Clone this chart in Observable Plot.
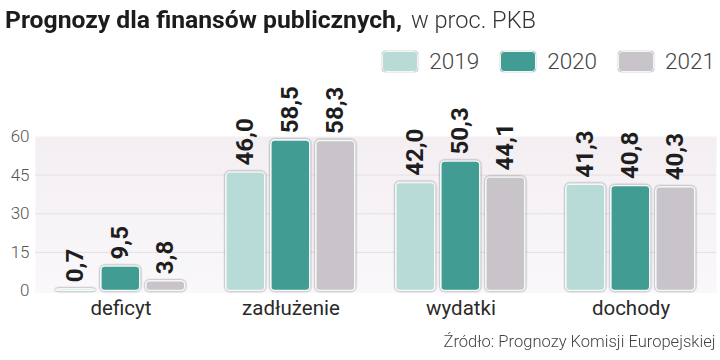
<!DOCTYPE html>
<html>
<head>
<meta charset="utf-8">
<script src="https://cdn.jsdelivr.net/npm/d3@7"></script>
<script src="https://cdn.jsdelivr.net/npm/@observablehq/plot@0.6"></script>
<style>
  html, body { margin: 0; padding: 0; background: #fff; }
  body { width: 720px; height: 360px; position: relative; overflow: hidden; font-family: Roboto, "Noto Sans", sans-serif; color: #222; }
  .t { position: absolute; top: 8px; line-height: 24px; font-size: 24px; white-space: nowrap; transform-origin: 0 0; }
  #t1 { left: 5px; font-weight: 700; color: #1c1c1c; }
  #t2 { left: 411px; font-weight: 300; color: #333; }
  #legend { position: absolute; top: 50px; right: 5px; height: 22px; display: flex; align-items: center; }
  .sw { width: 34px; height: 19px; border: 1.5px solid #f2f7f6; border-radius: 4px; box-shadow: 0 0 1.2px rgba(0,0,0,0.55); margin-right: 11px; }
  .lt { font-size: 22.5px; font-weight: 300; line-height: 22px; color: #444; margin-right: 21px; }
  .lt:last-child { margin-right: 0; }
  #chart { position: absolute; left: 0; top: 80px; }
  #caption { position: absolute; top: 330px; left: 0; width: 715px; height: 22px; }
  #cap { position: absolute; right: 0; top: 0; font-size: 17px; font-weight: 300; line-height: 22px; color: #444; white-space: nowrap; transform-origin: 100% 0; }
  #chart svg [aria-label^="y-axis"] text { font-size: 17px; font-weight: 300; fill: #555; }
  #chart svg [aria-label^="fx-axis"] text { font-size: 20.5px; font-weight: 400; fill: #2a2a2a; }
  #chart svg [aria-label="bar"] rect { filter: drop-shadow(0 0 0.8px rgba(0,0,0,0.5)); }
</style>
</head>
<body>
<div class="t" id="t1">Prognozy dla finansów publicznych,</div>
<div class="t" id="t2">w proc. PKB</div>
<div id="legend"></div>
<div id="chart"></div>
<div id="caption"><div id="cap">Źródło: Prognozy Komisji Europejskiej</div></div>
<script>
// ---- data ----
const categories = ["deficyt", "zadłużenie", "wydatki", "dochody"];
const years = ["2019", "2020", "2021"];
const values2019 = [0.7, 46.0, 42.0, 41.3];
const values2020 = [9.5, 58.5, 50.3, 40.8];
const values2021 = [3.8, 58.3, 44.1, 40.3];
const yTicks = [0, 15, 30, 45, 60];
const palette = ["#b8dbd8", "#419d93", "#c9c4ca"];

const series = [values2019, values2020, values2021];
const data = categories.flatMap((c, i) =>
  years.map((y, j) => ({category: c, year: y, value: series[j][i]})));

// ---- title fitting ----
function fit(el, target) {
  const w = el.getBoundingClientRect().width;
  el.style.transform = `scaleX(${target / w})`;
}
fit(document.getElementById("t1"), 397);
fit(document.getElementById("t2"), 125);

// ---- legend ----
const legend = document.getElementById("legend");
years.forEach((y, j) => {
  const s = document.createElement("div");
  s.className = "sw"; s.style.background = palette[j];
  const t = document.createElement("div");
  t.className = "lt"; t.textContent = y;
  legend.append(s, t);
});

// ---- chart ----
const fmt = v => v.toFixed(1).replace(".", ",");
const chart = Plot.plot({
  width: 720,
  height: 246,
  marginTop: 56,
  marginBottom: 35.5,
  marginLeft: 47.2,
  marginRight: 16.2,
  style: {fontFamily: "Roboto, sans-serif", fontSize: "17px", background: "transparent", overflow: "visible"},
  facet: {data, x: "category"},
  fx: {domain: categories, paddingInner: 0.16, paddingOuter: 0, label: null, tickSize: 0, tickPadding: 9, axis: "bottom"},
  x: {domain: years, paddingInner: 0.13, paddingOuter: 0.126, axis: null},
  y: {domain: [0, 60], ticks: yTicks, tickSize: 0, tickPadding: 20, label: null},
  color: {domain: years, range: palette},
  marks: [
    Plot.frame({fill: "url(#panelGrad)", stroke: "none", insetLeft: -14, insetRight: -14, insetBottom: -2}),
    Plot.ruleY([15, 30, 45], {stroke: "#e7dfe5", strokeWidth: 1, insetLeft: -14, insetRight: -14}),
    Plot.barY(data, {x: "year", y: "value", fill: "year", stroke: "#f3f9f8", strokeWidth: 1.6, rx: 4}),
    Plot.text(data, {x: "year", y: "value", text: d => fmt(d.value), rotate: -90, textAnchor: "start", lineAnchor: "middle",
      dy: -7, fontSize: 24, fontWeight: 700, fill: "#1e1e1e"})
  ]
});
const defs = d3.select(chart).insert("defs", ":first-child");
const g = defs.append("linearGradient").attr("id", "panelGrad").attr("x1", 0).attr("y1", 0).attr("x2", 0).attr("y2", 1);
g.append("stop").attr("offset", "0%").attr("stop-color", "#f3eef2");
g.append("stop").attr("offset", "100%").attr("stop-color", "#faf8fa");
document.getElementById("chart").append(chart);

// caption fit
(function () {
  const el = document.getElementById("cap");
  const w = el.getBoundingClientRect().width;
  el.style.transform = `scaleX(${272 / w})`;
})();
</script>
</body>
</html>
